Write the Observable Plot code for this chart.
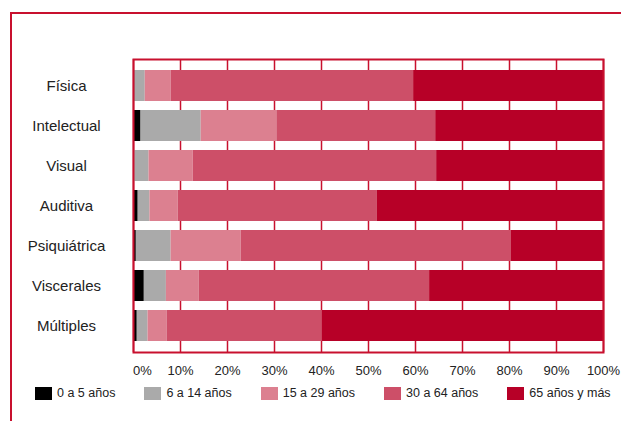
<!DOCTYPE html>
<html>
<head>
<meta charset="utf-8">
<script src="https://cdn.jsdelivr.net/npm/d3@7"></script>
<script src="https://cdn.jsdelivr.net/npm/@observablehq/plot@0.6"></script>
<style>
  body { margin: 0; background: #fff; }
  #wrap { position: relative; width: 621px; height: 421px; overflow: hidden; font-family: "Liberation Sans", Arial, sans-serif; }
  #border { position: absolute; left: 10px; top: 12px; right: -10px; bottom: -10px; border-top: 2.5px solid #c8102e; border-left: 2.5px solid #c8102e; }
  #chart { position: absolute; left: 0; top: 0; }
  #legend { position: absolute; left: 35px; top: 386px; display: flex; gap: 29px; font-size: 12.5px; color: #222; }
  .item { display: flex; align-items: center; gap: 5px; }
  .sw { width: 17px; height: 13px; display: inline-block; }
</style>
</head>
<body>
<div id="wrap">
  <div id="border"></div>
  <div id="chart"></div>
  <div id="legend"></div>
</div>
<script>
const categories = ["Física", "Intelectual", "Visual", "Auditiva", "Psiquiátrica", "Viscerales", "Múltiples"];
const groups = ["0 a 5 años", "6 a 14 años", "15 a 29 años", "30 a 64 años", "65 años y más"];
const colors = ["#000000", "#aaaaaa", "#dc8090", "#cd4f68", "#b70027"];
// percentage values per group, in the order of categories
const age0to5   = [0.3, 1.6, 0.2, 1.0, 0.6, 2.3, 0.8];
const age6to14  = [2.2, 12.8, 3.1, 2.5, 7.4, 4.7, 2.3];
const age15to29 = [5.5, 16.1, 9.4, 6.0, 14.9, 7.0, 4.1];
const age30to64 = [51.6, 33.8, 51.8, 42.4, 57.5, 49.0, 33.0];
const age65plus = [40.4, 35.7, 35.5, 48.1, 19.6, 37.0, 59.8];
const tickValues = [0, 10, 20, 30, 40, 50, 60, 70, 80, 90, 100];

const series = [age0to5, age6to14, age15to29, age30to64, age65plus];
const data = [];
categories.forEach((c, i) => {
  groups.forEach((g, j) => data.push({category: c, group: g, value: series[j][i]}));
});

const red = "#c8102e";

const chart = Plot.plot({
  width: 621,
  height: 390,
  marginLeft: 133,
  marginRight: 18,
  marginTop: 59,
  marginBottom: 38,
  style: {fontFamily: "'Liberation Sans', Arial, sans-serif", background: "transparent", color: "#222", overflow: "visible"},
  x: {domain: [0, 100]},
  y: {domain: categories, paddingInner: 0.225, paddingOuter: 0.275},
  color: {domain: groups, range: colors},
  marks: [
    Plot.ruleX(tickValues, {stroke: red, strokeWidth: 1.5}),
    Plot.barX(data, Plot.stackX({x: "value", y: "category", fill: "group", order: groups})),
    Plot.frame({stroke: red, strokeWidth: 2}),
    Plot.axisY({tickSize: 0, tickPadding: 67, textAnchor: "middle", fontSize: 15, label: null}),
    Plot.axisX(tickValues.slice(0, 1), {tickSize: 0, tickPadding: 13, dx: 9, fontSize: 13, tickFormat: d => d + "%", label: null}),
    Plot.axisX(tickValues.slice(1), {tickSize: 0, tickPadding: 13, fontSize: 13, tickFormat: d => d + "%", label: null})
  ]
});
document.getElementById("chart").appendChild(chart);

const legend = document.getElementById("legend");
groups.forEach((g, i) => {
  const it = document.createElement("div");
  it.className = "item";
  const sw = document.createElement("span");
  sw.className = "sw";
  sw.style.background = colors[i];
  const t = document.createElement("span");
  t.textContent = g;
  it.appendChild(sw);
  it.appendChild(t);
  legend.appendChild(it);
});
</script>
</body>
</html>
